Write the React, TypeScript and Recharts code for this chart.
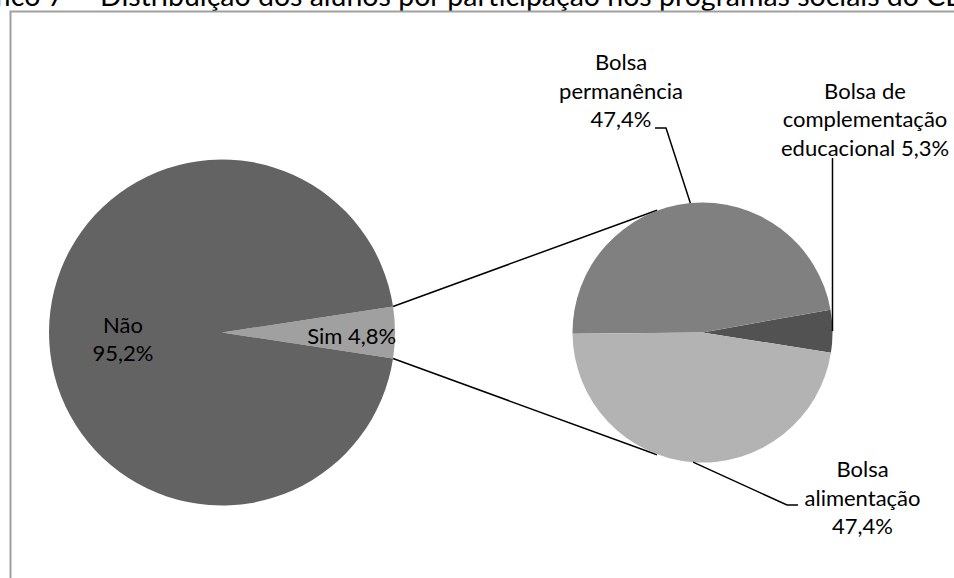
import { PieChart, Pie, Cell, Customized } from 'recharts';

// main pie: "Sim" first so it sits centred on 3 o'clock
const mainCategories = ['Sim', 'Não'];
const mainValues = [4.8, 95.2];
const mainColors = ['#a0a0a0', '#636363'];

// secondary pie (breakdown of "Sim")
const subCategories = [
  'Bolsa de complementação educacional',
  'Bolsa permanência',
  'Bolsa alimentação',
];
const subValues = [5.3, 47.4, 47.4];
const subColors = ['#525252', '#808080', '#b3b3b3'];

const mainData = mainCategories.map((name, i) => ({ name, value: mainValues[i] }));
const subData = subCategories.map((name, i) => ({ name, value: subValues[i] }));

const W = 954;
const H = 578;
const FONT = 'Lato, "Open Sans", sans-serif';
const LINE = 28.5;
const RADIAN = Math.PI / 180;

const MAIN = { cx: 222, cy: 332.5, r: 173 };
const SUB = { cx: 702.5, cy: 332.5, r: 130 };

const simHalf = (mainValues[0] / (mainValues[0] + mainValues[1])) * 180;
const subTotal = subValues.reduce((a, b) => a + b, 0);
const subStart = -(subValues[0] / subTotal) * 180 + 0.6;

const pct = (v: number) => `${v.toFixed(1).replace('.', ',')}%`;

// label layout for the secondary pie (text lines, anchor and leader elbows)
const subLabels = [
  { lines: (v: number) => ['Bolsa de', 'complementação', `educacional ${pct(v)}`], x: 865, y: 98.5, elbows: [[833, 158]] },
  { lines: (v: number) => ['Bolsa', 'permanência', pct(v)], x: 621, y: 70, elbows: [[666, 128], [655, 128]] },
  { lines: (v: number) => ['Bolsa', 'alimentação', pct(v)], x: 862.5, y: 477, elbows: [[787, 505], [798, 505]] },
];

const polar = (cx: number, cy: number, r: number, deg: number) => [
  cx + r * Math.cos(-deg * RADIAN),
  cy + r * Math.sin(-deg * RADIAN),
];

function MainLabel(props: any) {
  const { cx, cy, midAngle, outerRadius, index, name, value } = props;
  if (index === 0) {
    const [x] = polar(cx, cy, outerRadius * 0.75, midAngle);
    return (
      <text x={x} y={cy + 11.5} textAnchor="middle" fontFamily={FONT} fontSize={22} fill="#000">
        {`${name} ${pct(value)}`}
      </text>
    );
  }
  const [x] = polar(cx, cy, outerRadius * 0.572, midAngle);
  return (
    <text textAnchor="middle" fontFamily={FONT} fontSize={22} fill="#000">
      <tspan x={x} y={cy}>{name}</tspan>
      <tspan x={x} y={cy + LINE}>{pct(value)}</tspan>
    </text>
  );
}

function SubLabel(props: any) {
  const { cx, cy, midAngle, outerRadius, index, value } = props;
  const cfg = subLabels[index];
  const [ex, ey] = polar(cx, cy, outerRadius, midAngle);
  const pts = [[ex, ey], ...cfg.elbows];
  if (index === 0) pts[1] = [ex, cfg.elbows[0][1]];
  const d = pts.map((p, i) => `${i ? 'L' : 'M'}${p[0]},${p[1]}`).join(' ');
  return (
    <g>
      <path d={d} stroke="#000" strokeWidth={1.5} fill="none" />
      <text textAnchor="middle" fontFamily={FONT} fontSize={22} fill="#000">
        {cfg.lines(value).map((t, i) => (
          <tspan key={i} x={cfg.x} y={cfg.y + i * LINE}>
            {t}
          </tspan>
        ))}
      </text>
    </g>
  );
}

function Frame() {
  const [x1, y1] = polar(MAIN.cx, MAIN.cy, MAIN.r, simHalf);
  const [x2, y2] = polar(MAIN.cx, MAIN.cy, MAIN.r, -simHalf);
  const [x3, y3] = polar(SUB.cx, SUB.cy, SUB.r + 0.5, 110.4);
  const [x4, y4] = polar(SUB.cx, SUB.cy, SUB.r + 0.5, -110.4);
  return (
    <g>
      <text x={88} y={6} textAnchor="end" fontFamily={FONT} fontSize={28.5} fill="#000">
        Gráfico 7 –
      </text>
      <text x={100} y={6} fontFamily={FONT} fontSize={28.5} fill="#000">
        Distribuição dos alunos por participação nos programas sociais do CEFET
      </text>
      <path d={`M10.5,${H + 5} L10.5,11.5 L${W + 5},11.5`} stroke="#a0a0a0" strokeWidth={2} fill="none" />
      <line x1={x1} y1={y1} x2={x3} y2={y3} stroke="#000" strokeWidth={1.5} />
      <line x1={x2} y1={y2} x2={x4} y2={y4} stroke="#000" strokeWidth={1.5} />
    </g>
  );
}

export default function App() {
  return (
    <div style={{ position: 'absolute', left: 0, top: 0, width: W, height: H, background: '#fff' }}>
      <PieChart width={W} height={H} margin={{ top: 0, right: 0, bottom: 0, left: 0 }}>
        <Customized component={<Frame />} />
        <Pie
          data={mainData}
          dataKey="value"
          nameKey="name"
          cx={MAIN.cx}
          cy={MAIN.cy}
          outerRadius={MAIN.r}
          startAngle={-simHalf}
          endAngle={360 - simHalf}
          stroke="none"
          label={MainLabel}
          labelLine={false}
          isAnimationActive={false}
        >
          {mainData.map((d, i) => (
            <Cell key={d.name} fill={mainColors[i]} />
          ))}
        </Pie>
        <Pie
          data={subData}
          dataKey="value"
          nameKey="name"
          cx={SUB.cx}
          cy={SUB.cy}
          outerRadius={SUB.r}
          startAngle={subStart}
          endAngle={360 + subStart}
          stroke="none"
          label={SubLabel}
          labelLine={false}
          isAnimationActive={false}
        >
          {subData.map((d, i) => (
            <Cell key={d.name} fill={subColors[i]} />
          ))}
        </Pie>
      </PieChart>
    </div>
  );
}
